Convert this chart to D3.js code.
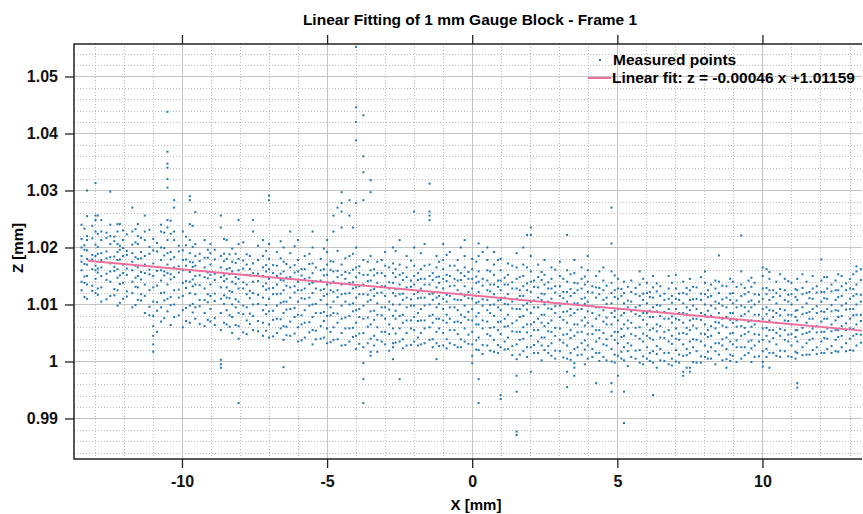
<!DOCTYPE html>
<html>
<head>
<meta charset="utf-8">
<script src="https://cdn.jsdelivr.net/npm/d3@7"></script>
<style>
    body { margin: 0; background: #fff; }
    svg { display: block; font-family: "Liberation Sans", Arial, sans-serif; }
</style>
</head>
<body>
<div class="container"></div>
<script>
var SVG_WIDTH = 863;
var SVG_HEIGHT = 514;
var PLOT = { left: 74, right: 862, top: 44, bottom: 459 };

var X_DOMAIN = [-13.72, 13.43];
var Z_DOMAIN = [0.98289, 1.0557];
var X_TICKS = [-10, -5, 0, 5, 10];
var X_TICK_LABELS = ['-10', '-5', '0', '5', '10'];
var Z_TICKS = [0.99, 1.0, 1.01, 1.02, 1.03, 1.04, 1.05];
var Z_TICK_LABELS = ['0.99', '1', '1.01', '1.02', '1.03', '1.04', '1.05'];
var X_MINOR_STEP = 1;
var Z_MINOR_STEP = 0.002;

var FIT_SLOPE = -0.00046;
var FIT_INTERCEPT = 1.01159;
var FIT_X = [-13.25, 13.43];

// measured columns: [x, [z values]]  (mm)
var colsA = [
    [-13.46, [1.0125, 1.0140, 1.0160, 1.0175, 1.0185, 1.0200, 1.0215, 1.0240]],
    [-13.27, [1.0110, 1.0135, 1.0150, 1.0170, 1.0180, 1.0195, 1.0213, 1.0220, 1.0255, 1.0300]],
    [-12.98, [1.0120, 1.0145, 1.0160, 1.0168, 1.0185, 1.0205, 1.0228, 1.0248, 1.0256, 1.0313]],
    [-12.78, [1.0105, 1.0130, 1.0150, 1.0165, 1.0178, 1.0190, 1.0213, 1.0228, 1.0248]],
    [-12.47, [1.0115, 1.0140, 1.0158, 1.0172, 1.0183, 1.0206, 1.0220, 1.0240, 1.0298]],
    [-12.22, [1.0098, 1.0125, 1.0147, 1.0162, 1.0178, 1.0192, 1.0206, 1.0228, 1.0241]],
    [-12.03, [1.0110, 1.0138, 1.0155, 1.0170, 1.0185, 1.0199, 1.0213, 1.0230]],
    [-11.71, [1.0095, 1.0120, 1.0140, 1.0160, 1.0175, 1.0190, 1.0205, 1.0228, 1.0270]],
    [-11.52, [1.0108, 1.0130, 1.0150, 1.0165, 1.0180, 1.0206, 1.0220, 1.0241]],
    [-11.28, [1.0085, 1.0115, 1.0135, 1.0155, 1.0170, 1.0185, 1.0213, 1.0228, 1.0256]],
    [-10.99, [1.0017, 1.0030, 1.0045, 1.0062, 1.0080, 1.0105, 1.0130, 1.0150, 1.0172, 1.0195, 1.0215]],
    [-10.72, [1.0070, 1.0095, 1.0120, 1.0142, 1.0160, 1.0178, 1.0200, 1.0228, 1.0240]],
    [-10.5, [1.0088, 1.0110, 1.0135, 1.0155, 1.0170, 1.0190, 1.0213, 1.0235, 1.0248, 1.0305, 1.0320, 1.0340, 1.0347, 1.0368, 1.0438]],
    [-10.27, [1.0078, 1.0100, 1.0125, 1.0148, 1.0165, 1.0183, 1.0213, 1.0228, 1.0270, 1.0283]],
    [-9.97, [1.0060, 1.0090, 1.0115, 1.0138, 1.0160, 1.0178, 1.0195, 1.0228]],
    [-9.73, [1.0068, 1.0098, 1.0120, 1.0140, 1.0157, 1.0175, 1.0190, 1.0213, 1.0241, 1.0283, 1.0290]],
    [-9.54, [1.0075, 1.0095, 1.0118, 1.0135, 1.0150, 1.0168, 1.0185, 1.0206, 1.0262]],
    [-9.22, [1.0062, 1.0085, 1.0108, 1.0128, 1.0148, 1.0165, 1.0182, 1.0213]],
    [-9.02, [1.0070, 1.0092, 1.0115, 1.0135, 1.0152, 1.0170, 1.0190, 1.0206]],
    [-8.66, [0.9989, 0.9995, 1.0003, 1.0055, 1.0085, 1.0110, 1.0130, 1.0148, 1.0165, 1.0185, 1.0235, 1.0256]],
    [-8.46, [1.0065, 1.0090, 1.0112, 1.0130, 1.0145, 1.0162, 1.0180, 1.0213]],
    [-8.27, [1.0050, 1.0078, 1.0100, 1.0122, 1.0140, 1.0158, 1.0175, 1.0198]],
    [-8.05, [0.9927, 1.0040, 1.0062, 1.0085, 1.0105, 1.0128, 1.0145, 1.0160, 1.0180, 1.0206, 1.0248]],
    [-7.77, [1.0048, 1.0072, 1.0095, 1.0118, 1.0135, 1.0152, 1.0170, 1.0188]],
    [-7.55, [1.0055, 1.0080, 1.0100, 1.0120, 1.0140, 1.0155, 1.0172, 1.0228, 1.0248]],
    [-7.21, [1.0045, 1.0068, 1.0090, 1.0112, 1.0132, 1.0150, 1.0165, 1.0185, 1.0213]]
];

var colsA2 = [
    [-13.36, [1.0113, 1.0138, 1.0149, 1.0171, 1.0196, 1.0204, 1.0233]],
    [-13.09, [1.0124, 1.0133, 1.0162, 1.0179, 1.0187, 1.0216, 1.0238]],
    [-12.9, [1.0117, 1.0128, 1.0156, 1.0163, 1.0189, 1.0201, 1.0224, 1.0256]],
    [-12.6, [1.0109, 1.0143, 1.0154, 1.0181, 1.0193, 1.0217, 1.0226]],
    [-12.33, [1.0116, 1.0127, 1.0159, 1.0166, 1.0184, 1.0211, 1.0219]],
    [-12.14, [1.0103, 1.0136, 1.0151, 1.0179, 1.0196, 1.0203, 1.0241]],
    [-11.9, [1.0114, 1.0123, 1.0152, 1.0163, 1.0187, 1.0194, 1.0223]],
    [-11.6, [1.0099, 1.0131, 1.0147, 1.0168, 1.0183, 1.0209, 1.0232]],
    [-11.41, [1.0107, 1.0118, 1.0144, 1.0157, 1.0181, 1.0192, 1.0217]],
    [-11.12, [1.0081, 1.0096, 1.0125, 1.0153, 1.0161, 1.0189, 1.0201, 1.0231]],
    [-10.86, [1.0052, 1.0089, 1.0104, 1.0133, 1.0159, 1.0166, 1.0193, 1.0208]],
    [-10.61, [1.0076, 1.0107, 1.0121, 1.0151, 1.0158, 1.0186, 1.0199, 1.0226]],
    [-10.39, [1.0064, 1.0099, 1.0113, 1.0144, 1.0153, 1.0179, 1.0192, 1.0224, 1.0247]],
    [-10.11, [1.0081, 1.0112, 1.0126, 1.0156, 1.0167, 1.0193, 1.0203]],
    [-9.86, [1.0071, 1.0094, 1.0129, 1.0141, 1.0168, 1.0179, 1.0204, 1.0219]],
    [-9.63, [1.0086, 1.0101, 1.0132, 1.0144, 1.0166, 1.0174, 1.0201, 1.0238]],
    [-9.39, [1.0066, 1.0097, 1.0108, 1.0134, 1.0151, 1.0176, 1.0189]],
    [-9.11, [1.0073, 1.0104, 1.0118, 1.0146, 1.0156, 1.0182, 1.0196]],
    [-8.87, [1.0064, 1.0076, 1.0106, 1.0119, 1.0143, 1.0154, 1.0179, 1.0196]],
    [-8.55, [1.0068, 1.0101, 1.0116, 1.0141, 1.0151, 1.0176, 1.0189, 1.0215]],
    [-8.36, [1.0061, 1.0081, 1.0111, 1.0124, 1.0153, 1.0164, 1.0188]],
    [-8.15, [1.0064, 1.0095, 1.0109, 1.0136, 1.0148, 1.0173, 1.0189]],
    [-7.89, [1.0051, 1.0083, 1.0098, 1.0128, 1.0139, 1.0163, 1.0177, 1.0209]],
    [-7.66, [1.0066, 1.0084, 1.0111, 1.0124, 1.0151, 1.0162, 1.0185]],
    [-7.38, [1.0053, 1.0071, 1.0101, 1.0117, 1.0141, 1.0154, 1.0178, 1.0203]],
    [-7.1, [1.0054, 1.0083, 1.0099, 1.0126, 1.0137, 1.0158, 1.0169, 1.0194]]
];

var colsB = [
    [-7.0, [1.0042, 1.0065, 1.0088, 1.0110, 1.0128, 1.0145, 1.0162, 1.0180, 1.0206, 1.0283, 1.0291]],
    [-6.73, [1.0050, 1.0075, 1.0098, 1.0118, 1.0135, 1.0150, 1.0168, 1.0192]],
    [-6.5, [0.9990, 1.0038, 1.0062, 1.0085, 1.0105, 1.0125, 1.0142, 1.0158, 1.0175, 1.0200]],
    [-6.27, [1.0045, 1.0070, 1.0092, 1.0112, 1.0130, 1.0148, 1.0165, 1.0190, 1.0228]],
    [-6.0, [1.0035, 1.0060, 1.0082, 1.0105, 1.0125, 1.0140, 1.0158, 1.0178, 1.0213]],
    [-5.77, [1.0042, 1.0068, 1.0090, 1.0110, 1.0128, 1.0145, 1.0162, 1.0185]],
    [-5.5, [1.0030, 1.0055, 1.0078, 1.0100, 1.0120, 1.0138, 1.0155, 1.0172, 1.0200, 1.0228]],
    [-5.22, [1.0040, 1.0062, 1.0085, 1.0108, 1.0125, 1.0142, 1.0160, 1.0180]],
    [-5.0, [1.0032, 1.0058, 1.0080, 1.0100, 1.0118, 1.0135, 1.0152, 1.0170, 1.0192, 1.0213]],
    [-4.78, [1.0038, 1.0060, 1.0085, 1.0105, 1.0122, 1.0140, 1.0158, 1.0175, 1.0228, 1.0256]],
    [-4.5, [1.0028, 1.0050, 1.0075, 1.0098, 1.0118, 1.0135, 1.0152, 1.0170, 1.0235, 1.0263, 1.0278, 1.0297]],
    [-4.23, [1.0035, 1.0058, 1.0080, 1.0100, 1.0120, 1.0138, 1.0155, 1.0185, 1.0256, 1.0283]],
    [-4.0, [1.0022, 1.0045, 1.0068, 1.0090, 1.0112, 1.0130, 1.0148, 1.0165, 1.0200, 1.0278, 1.0388, 1.0420, 1.0446, 1.0552]],
    [-3.75, [0.9927, 0.9969, 0.9997, 1.0025, 1.0050, 1.0075, 1.0098, 1.0118, 1.0135, 1.0152, 1.0178, 1.0283, 1.0332, 1.0360, 1.0432]],
    [-3.5, [1.0010, 1.0017, 1.0040, 1.0065, 1.0088, 1.0108, 1.0125, 1.0142, 1.0160, 1.0185, 1.0297, 1.0318]],
    [-3.27, [1.0017, 1.0038, 1.0060, 1.0082, 1.0102, 1.0120, 1.0138, 1.0155, 1.0175]],
    [-3.0, [1.0030, 1.0052, 1.0075, 1.0095, 1.0115, 1.0132, 1.0150, 1.0168, 1.0192]],
    [-2.73, [1.0004, 1.0025, 1.0032, 1.0058, 1.0080, 1.0100, 1.0120, 1.0138, 1.0155, 1.0172, 1.0200]],
    [-2.5, [0.9969, 1.0035, 1.0058, 1.0080, 1.0100, 1.0118, 1.0135, 1.0152, 1.0170, 1.0213]],
    [-2.26, [1.0028, 1.0050, 1.0072, 1.0095, 1.0112, 1.0130, 1.0148, 1.0165, 1.0185]],
    [-2.0, [1.0035, 1.0055, 1.0078, 1.0098, 1.0118, 1.0135, 1.0150, 1.0168, 1.0200, 1.0263]],
    [-1.77, [1.0030, 1.0050, 1.0072, 1.0092, 1.0112, 1.0128, 1.0145, 1.0162, 1.0190]],
    [-1.47, [1.0038, 1.0060, 1.0080, 1.0100, 1.0118, 1.0135, 1.0150, 1.0170, 1.0248, 1.0256, 1.0263, 1.0312]],
    [-1.23, [1.0004, 1.0032, 1.0052, 1.0075, 1.0095, 1.0112, 1.0130, 1.0148, 1.0165, 1.0185]],
    [-1.0, [1.0028, 1.0050, 1.0072, 1.0092, 1.0110, 1.0128, 1.0145, 1.0162, 1.0178, 1.0206]],
    [-0.77, [1.0032, 1.0055, 1.0075, 1.0095, 1.0115, 1.0132, 1.0150, 1.0168, 1.0192]],
    [-0.5, [1.0025, 1.0048, 1.0070, 1.0090, 1.0108, 1.0125, 1.0142, 1.0160, 1.0178]],
    [-0.26, [1.0035, 1.0058, 1.0078, 1.0098, 1.0115, 1.0132, 1.0150, 1.0165, 1.0185, 1.0213]]
];

var colsB2 = [
    [-6.86, [1.0044, 1.0073, 1.0089, 1.0118, 1.0129, 1.0155, 1.0169]],
    [-6.6, [1.0058, 1.0074, 1.0103, 1.0119, 1.0143, 1.0154, 1.0181, 1.0211]],
    [-6.4, [1.0046, 1.0061, 1.0091, 1.0105, 1.0133, 1.0147, 1.0171]],
    [-6.12, [1.0049, 1.0078, 1.0094, 1.0121, 1.0132, 1.0156, 1.0169, 1.0202]],
    [-5.88, [1.0037, 1.0065, 1.0081, 1.0111, 1.0125, 1.0151, 1.0162]],
    [-5.61, [1.0051, 1.0069, 1.0098, 1.0112, 1.0136, 1.0147, 1.0171, 1.0189]],
    [-5.39, [1.0039, 1.0054, 1.0085, 1.0101, 1.0128, 1.0141, 1.0165]],
    [-5.11, [1.0042, 1.0071, 1.0087, 1.0115, 1.0127, 1.0151, 1.0162, 1.0198]],
    [-4.88, [1.0034, 1.0052, 1.0081, 1.0095, 1.0125, 1.0137, 1.0161, 1.0176]],
    [-4.64, [1.0039, 1.0068, 1.0084, 1.0113, 1.0125, 1.0148, 1.0159, 1.0194, 1.0270]],
    [-4.37, [1.0029, 1.0058, 1.0077, 1.0105, 1.0119, 1.0145, 1.0157, 1.0181]],
    [-4.11, [1.0043, 1.0059, 1.0088, 1.0102, 1.0128, 1.0139, 1.0161, 1.0189, 1.0235]],
    [-3.89, [1.0031, 1.0049, 1.0078, 1.0092, 1.0118, 1.0132, 1.0155, 1.0167]],
    [-3.6, [1.0032, 1.0061, 1.0077, 1.0105, 1.0117, 1.0141, 1.0152, 1.0175]],
    [-3.38, [1.0028, 1.0045, 1.0073, 1.0089, 1.0115, 1.0127, 1.0151, 1.0162]],
    [-3.12, [1.0035, 1.0052, 1.0081, 1.0095, 1.0121, 1.0132, 1.0155, 1.0178]],
    [-2.86, [1.0019, 1.0048, 1.0065, 1.0091, 1.0105, 1.0128, 1.0139, 1.0165]],
    [-2.64, [1.0033, 1.0049, 1.0075, 1.0089, 1.0115, 1.0127, 1.0148, 1.0162, 1.0194]],
    [-2.39, [1.0023, 1.0039, 1.0068, 1.0082, 1.0108, 1.0119, 1.0143, 1.0155]],
    [-2.11, [1.0029, 1.0058, 1.0072, 1.0098, 1.0109, 1.0131, 1.0142, 1.0177]],
    [-1.87, [1.0028, 1.0042, 1.0071, 1.0085, 1.0111, 1.0122, 1.0143, 1.0155]],
    [-1.64, [1.0032, 1.0058, 1.0072, 1.0098, 1.0112, 1.0135, 1.0145, 1.0168, 1.0206]],
    [-1.36, [1.0025, 1.0039, 1.0068, 1.0082, 1.0108, 1.0119, 1.0143, 1.0155]],
    [-1.14, [1.0027, 1.0058, 1.0075, 1.0101, 1.0115, 1.0138, 1.0149, 1.0175]],
    [-0.88, [1.0023, 1.0039, 1.0068, 1.0082, 1.0105, 1.0117, 1.0141, 1.0152, 1.0187]],
    [-0.61, [1.0029, 1.0055, 1.0069, 1.0095, 1.0109, 1.0133, 1.0145, 1.0168]],
    [-0.39, [1.0025, 1.0039, 1.0068, 1.0082, 1.0108, 1.0119, 1.0143, 1.0155, 1.0200]],
    [-0.13, [1.0031, 1.0047, 1.0073, 1.0087, 1.0111, 1.0122, 1.0145, 1.0157]]
];

var colsC = [
    [0.0, [0.9997, 1.0010, 1.0030, 1.0052, 1.0072, 1.0092, 1.0110, 1.0128, 1.0145, 1.0162, 1.0180]],
    [0.22, [0.9927, 0.9969, 1.0020, 1.0042, 1.0065, 1.0085, 1.0105, 1.0122, 1.0140, 1.0158, 1.0185, 1.0207]],
    [0.52, [1.0028, 1.0048, 1.0070, 1.0090, 1.0108, 1.0125, 1.0142, 1.0160, 1.0178, 1.0200]],
    [0.75, [1.0017, 1.0038, 1.0060, 1.0080, 1.0100, 1.0118, 1.0135, 1.0152, 1.0170, 1.0192]],
    [0.98, [0.9934, 0.9941, 1.0025, 1.0048, 1.0070, 1.0090, 1.0108, 1.0125, 1.0142, 1.0160, 1.0180]],
    [1.23, [1.0022, 1.0042, 1.0062, 1.0082, 1.0100, 1.0118, 1.0135, 1.0152, 1.0172]],
    [1.53, [0.9871, 0.9877, 0.9947, 0.9975, 1.0004, 1.0030, 1.0052, 1.0072, 1.0092, 1.0110, 1.0128, 1.0145, 1.0165, 1.0190]],
    [1.76, [1.0018, 1.0040, 1.0060, 1.0080, 1.0098, 1.0115, 1.0132, 1.0150, 1.0170, 1.0200]],
    [2.02, [0.9982, 1.0025, 1.0045, 1.0065, 1.0085, 1.0105, 1.0122, 1.0140, 1.0158, 1.0185, 1.0222, 1.0235]],
    [2.27, [1.0015, 1.0035, 1.0055, 1.0075, 1.0095, 1.0112, 1.0130, 1.0148, 1.0170]],
    [2.49, [1.0020, 1.0042, 1.0062, 1.0082, 1.0100, 1.0118, 1.0135, 1.0152, 1.0178]],
    [2.73, [1.0010, 1.0032, 1.0052, 1.0072, 1.0092, 1.0110, 1.0128, 1.0145, 1.0165]],
    [3.02, [1.0018, 1.0038, 1.0058, 1.0078, 1.0098, 1.0115, 1.0132, 1.0150, 1.0175]],
    [3.27, [0.9955, 0.9982, 1.0005, 1.0028, 1.0048, 1.0068, 1.0088, 1.0105, 1.0122, 1.0140, 1.0160, 1.0222]],
    [3.52, [0.9975, 0.9989, 0.9997, 1.0022, 1.0045, 1.0065, 1.0085, 1.0102, 1.0120, 1.0138, 1.0155, 1.0178]],
    [3.77, [1.0012, 1.0032, 1.0052, 1.0072, 1.0092, 1.0110, 1.0128, 1.0145, 1.0165]],
    [3.98, [1.0005, 1.0028, 1.0048, 1.0068, 1.0088, 1.0105, 1.0122, 1.0140, 1.0160, 1.0185]],
    [4.27, [0.9962, 1.0015, 1.0035, 1.0055, 1.0075, 1.0095, 1.0112, 1.0130, 1.0150]],
    [4.52, [1.0008, 1.0030, 1.0050, 1.0070, 1.0090, 1.0108, 1.0125, 1.0142, 1.0165]],
    [4.8, [0.9947, 0.9962, 1.0000, 1.0022, 1.0045, 1.0065, 1.0085, 1.0102, 1.0120, 1.0138, 1.0158, 1.0207, 1.0270]],
    [5.02, [0.9975, 1.0010, 1.0032, 1.0052, 1.0072, 1.0092, 1.0110, 1.0128, 1.0145]],
    [5.23, [0.9892, 0.9947, 1.0002, 1.0025, 1.0045, 1.0065, 1.0085, 1.0102, 1.0120, 1.0140]],
    [5.48, [1.0008, 1.0028, 1.0048, 1.0068, 1.0088, 1.0105, 1.0122, 1.0142]],
    [5.77, [0.9998, 1.0020, 1.0040, 1.0060, 1.0080, 1.0098, 1.0115, 1.0135, 1.0158]],
    [6.02, [1.0005, 1.0025, 1.0045, 1.0065, 1.0085, 1.0102, 1.0120, 1.0138]],
    [6.23, [0.9941, 0.9998, 1.0018, 1.0038, 1.0058, 1.0078, 1.0095, 1.0112, 1.0130, 1.0150]],
    [6.48, [1.0002, 1.0022, 1.0042, 1.0062, 1.0080, 1.0098, 1.0115, 1.0132]],
    [6.77, [0.9995, 1.0015, 1.0035, 1.0055, 1.0075, 1.0092, 1.0110, 1.0128, 1.0150]]
];

var colsC2 = [
    [0.14, [1.0021, 1.0037, 1.0065, 1.0079, 1.0103, 1.0115, 1.0138, 1.0149, 1.0175]],
    [0.36, [1.0013, 1.0029, 1.0058, 1.0072, 1.0098, 1.0109, 1.0133, 1.0145, 1.0192]],
    [0.62, [1.0019, 1.0045, 1.0059, 1.0085, 1.0099, 1.0123, 1.0135, 1.0158]],
    [0.89, [1.0015, 1.0029, 1.0055, 1.0069, 1.0095, 1.0107, 1.0131, 1.0142, 1.0178]],
    [1.12, [1.0021, 1.0035, 1.0061, 1.0075, 1.0101, 1.0112, 1.0135, 1.0147]],
    [1.38, [1.0011, 1.0027, 1.0053, 1.0067, 1.0093, 1.0105, 1.0128, 1.0139, 1.0168]],
    [1.64, [1.0012, 1.0038, 1.0052, 1.0078, 1.0092, 1.0115, 1.0125, 1.0148]],
    [1.89, [1.0008, 1.0025, 1.0051, 1.0065, 1.0091, 1.0102, 1.0125, 1.0137, 1.0165, 1.0222]],
    [2.13, [1.0015, 1.0029, 1.0055, 1.0069, 1.0095, 1.0107, 1.0131, 1.0142]],
    [2.39, [1.0002, 1.0028, 1.0042, 1.0068, 1.0082, 1.0108, 1.0119, 1.0143, 1.0157]],
    [2.62, [1.0015, 1.0027, 1.0053, 1.0067, 1.0093, 1.0105, 1.0128, 1.0139]],
    [2.86, [1.0005, 1.0019, 1.0045, 1.0059, 1.0085, 1.0097, 1.0121, 1.0132, 1.0161]],
    [3.14, [1.0007, 1.0033, 1.0047, 1.0073, 1.0087, 1.0111, 1.0122, 1.0145]],
    [3.39, [1.0003, 1.0015, 1.0041, 1.0055, 1.0081, 1.0092, 1.0115, 1.0127, 1.0153]],
    [3.63, [1.0011, 1.0025, 1.0051, 1.0065, 1.0091, 1.0102, 1.0125, 1.0137]],
    [3.88, [0.9995, 1.0021, 1.0037, 1.0063, 1.0077, 1.0101, 1.0112, 1.0135, 1.0149]],
    [4.14, [1.0008, 1.0022, 1.0048, 1.0062, 1.0085, 1.0097, 1.0121, 1.0132]],
    [4.38, [1.0001, 1.0015, 1.0041, 1.0055, 1.0081, 1.0095, 1.0118, 1.0129, 1.0158]],
    [4.63, [1.0002, 1.0028, 1.0039, 1.0065, 1.0077, 1.0101, 1.0112, 1.0133]],
    [4.91, [0.9998, 1.0012, 1.0038, 1.0052, 1.0078, 1.0089, 1.0113, 1.0125, 1.0151]],
    [5.14, [1.0005, 1.0017, 1.0043, 1.0057, 1.0081, 1.0092, 1.0115, 1.0127]],
    [5.36, [0.9992, 1.0018, 1.0032, 1.0058, 1.0072, 1.0095, 1.0107, 1.0131]],
    [5.63, [1.0005, 1.0019, 1.0045, 1.0059, 1.0083, 1.0095, 1.0118, 1.0129]],
    [5.89, [0.9995, 1.0009, 1.0035, 1.0049, 1.0073, 1.0085, 1.0108, 1.0119, 1.0145]],
    [6.12, [1.0001, 1.0015, 1.0041, 1.0055, 1.0078, 1.0089, 1.0113, 1.0122]],
    [6.36, [0.9989, 1.0013, 1.0027, 1.0053, 1.0065, 1.0088, 1.0099, 1.0123, 1.0137]],
    [6.62, [1.0001, 1.0015, 1.0041, 1.0052, 1.0075, 1.0087, 1.0108, 1.0119]],
    [6.88, [0.9993, 1.0005, 1.0031, 1.0045, 1.0068, 1.0079, 1.0103, 1.0115, 1.0138]]
];

var colsD = [
    [7.02, [1.0000, 1.0020, 1.0040, 1.0058, 1.0075, 1.0092, 1.0110, 1.0128, 1.0152]],
    [7.27, [0.9975, 0.9982, 1.0010, 1.0030, 1.0050, 1.0068, 1.0085, 1.0102, 1.0120, 1.0140]],
    [7.5, [0.9982, 0.9989, 1.0015, 1.0035, 1.0055, 1.0072, 1.0090, 1.0108, 1.0125, 1.0145]],
    [7.73, [0.9998, 1.0018, 1.0038, 1.0058, 1.0075, 1.0092, 1.0110, 1.0130]],
    [8.02, [1.0008, 1.0028, 1.0048, 1.0065, 1.0082, 1.0100, 1.0118, 1.0138, 1.0158]],
    [8.23, [1.0005, 1.0025, 1.0045, 1.0062, 1.0080, 1.0098, 1.0115, 1.0135]],
    [8.5, [1.0012, 1.0032, 1.0050, 1.0068, 1.0085, 1.0102, 1.0120, 1.0140, 1.0186]],
    [8.76, [0.9989, 1.0004, 1.0022, 1.0042, 1.0060, 1.0078, 1.0095, 1.0112, 1.0132]],
    [8.98, [1.0010, 1.0030, 1.0050, 1.0068, 1.0085, 1.0102, 1.0120, 1.0140]],
    [9.27, [1.0005, 1.0025, 1.0045, 1.0062, 1.0080, 1.0098, 1.0115, 1.0135, 1.0158, 1.0221]],
    [9.52, [1.0015, 1.0035, 1.0052, 1.0070, 1.0088, 1.0105, 1.0122, 1.0142]],
    [9.73, [1.0008, 1.0028, 1.0048, 1.0065, 1.0082, 1.0100, 1.0118, 1.0138]],
    [10.01, [0.9991, 0.9999, 1.0018, 1.0038, 1.0058, 1.0075, 1.0092, 1.0110, 1.0128, 1.0150, 1.0165]],
    [10.24, [0.9989, 1.0015, 1.0035, 1.0055, 1.0072, 1.0090, 1.0108, 1.0125, 1.0145, 1.0157]],
    [10.48, [1.0010, 1.0030, 1.0050, 1.0068, 1.0085, 1.0102, 1.0120, 1.0140]],
    [10.77, [1.0018, 1.0038, 1.0055, 1.0072, 1.0090, 1.0108, 1.0125, 1.0145]],
    [11.0, [1.0008, 1.0028, 1.0048, 1.0065, 1.0082, 1.0100, 1.0118, 1.0138]],
    [11.2, [0.9954, 0.9962, 1.0015, 1.0035, 1.0055, 1.0072, 1.0090, 1.0108, 1.0125, 1.0145]],
    [11.52, [1.0012, 1.0032, 1.0050, 1.0068, 1.0085, 1.0102, 1.0120, 1.0140]],
    [11.73, [1.0020, 1.0040, 1.0058, 1.0075, 1.0092, 1.0110, 1.0128, 1.0150]],
    [12.03, [1.0015, 1.0035, 1.0052, 1.0070, 1.0088, 1.0105, 1.0122, 1.0142, 1.0179]],
    [12.23, [1.0022, 1.0040, 1.0058, 1.0075, 1.0092, 1.0110, 1.0128, 1.0148]],
    [12.52, [1.0018, 1.0038, 1.0055, 1.0072, 1.0090, 1.0108, 1.0125, 1.0142]],
    [12.73, [1.0025, 1.0045, 1.0062, 1.0080, 1.0098, 1.0115, 1.0132, 1.0150]],
    [13.02, [1.0020, 1.0040, 1.0058, 1.0075, 1.0092, 1.0110, 1.0128, 1.0145]],
    [13.24, [1.0028, 1.0048, 1.0065, 1.0082, 1.0100, 1.0118, 1.0135, 1.0158, 1.0167]]
];

var colsD2 = [
    [7.13, [0.9998, 1.0012, 1.0038, 1.0049, 1.0073, 1.0085, 1.0108, 1.0119]],
    [7.39, [0.9989, 1.0011, 1.0022, 1.0048, 1.0059, 1.0083, 1.0095, 1.0118, 1.0129]],
    [7.61, [0.9999, 1.0025, 1.0039, 1.0063, 1.0075, 1.0098, 1.0109, 1.0131]],
    [7.88, [0.9998, 1.0009, 1.0035, 1.0049, 1.0073, 1.0085, 1.0108, 1.0119, 1.0148]],
    [8.12, [1.0005, 1.0017, 1.0043, 1.0055, 1.0078, 1.0089, 1.0113, 1.0125]],
    [8.38, [0.9995, 1.0018, 1.0032, 1.0058, 1.0069, 1.0093, 1.0105, 1.0128, 1.0142]],
    [8.62, [1.0002, 1.0028, 1.0039, 1.0063, 1.0075, 1.0098, 1.0109, 1.0133]],
    [8.89, [1.0001, 1.0012, 1.0035, 1.0049, 1.0073, 1.0085, 1.0108, 1.0119, 1.0145]],
    [9.11, [0.9999, 1.0025, 1.0037, 1.0061, 1.0072, 1.0095, 1.0107, 1.0131]],
    [9.39, [1.0011, 1.0025, 1.0048, 1.0059, 1.0083, 1.0095, 1.0118, 1.0129]],
    [9.62, [0.9999, 1.0023, 1.0037, 1.0061, 1.0072, 1.0095, 1.0107, 1.0131, 1.0147]],
    [9.88, [1.0009, 1.0035, 1.0047, 1.0071, 1.0082, 1.0105, 1.0117]],
    [10.14, [1.0008, 1.0022, 1.0045, 1.0059, 1.0083, 1.0095, 1.0118, 1.0129, 1.0162]],
    [10.37, [1.0015, 1.0041, 1.0055, 1.0078, 1.0089, 1.0113, 1.0125]],
    [10.61, [1.0008, 1.0019, 1.0045, 1.0057, 1.0081, 1.0092, 1.0115, 1.0127, 1.0153]],
    [10.89, [1.0009, 1.0035, 1.0047, 1.0071, 1.0082, 1.0105, 1.0117, 1.0141]],
    [11.14, [1.0005, 1.0017, 1.0043, 1.0055, 1.0078, 1.0089, 1.0113, 1.0127]],
    [11.38, [1.0011, 1.0025, 1.0048, 1.0059, 1.0083, 1.0095, 1.0118, 1.0129, 1.0153]],
    [11.62, [1.0012, 1.0038, 1.0052, 1.0075, 1.0087, 1.0111, 1.0122]],
    [11.87, [1.0013, 1.0025, 1.0051, 1.0062, 1.0085, 1.0097, 1.0121, 1.0132]],
    [12.13, [1.0015, 1.0041, 1.0052, 1.0075, 1.0087, 1.0111, 1.0122, 1.0148]],
    [12.38, [1.0015, 1.0027, 1.0053, 1.0065, 1.0088, 1.0099, 1.0123, 1.0135]],
    [12.61, [1.0017, 1.0043, 1.0055, 1.0078, 1.0089, 1.0113, 1.0125, 1.0153]],
    [12.88, [1.0018, 1.0032, 1.0055, 1.0067, 1.0091, 1.0102, 1.0125, 1.0137]],
    [13.13, [1.0019, 1.0045, 1.0057, 1.0081, 1.0092, 1.0115, 1.0127, 1.0153]],
    [13.39, [1.0033, 1.0047, 1.0071, 1.0082, 1.0105, 1.0117, 1.0143, 1.0162]]
];

var POINT_COLOR = '#1f77b4';
var FIT_COLOR = '#ee6f9c';
var FONT = '"Liberation Sans", Arial, sans-serif';

document.addEventListener('DOMContentLoaded', function () {
    var svg = d3.select(".container")
        .append("svg")
        .attr("width", SVG_WIDTH)
        .attr("height", SVG_HEIGHT);

    svg.append('rect')
        .attr('width', SVG_WIDTH)
        .attr('height', SVG_HEIGHT)
        .attr('fill', '#fff');

    var x = d3.scaleLinear().domain(X_DOMAIN).range([PLOT.left, PLOT.right]);
    var y = d3.scaleLinear().domain(Z_DOMAIN).range([PLOT.bottom, PLOT.top]);

    var points = [];
    [colsA, colsA2, colsB, colsB2, colsC, colsC2, colsD, colsD2].forEach(function (cols) {
        cols.forEach(function (c) {
            c[1].forEach(function (z) {
                points.push({ x: c[0], z: z });
            });
        });
    });

    // minor grid
    var xMinor = d3.range(Math.ceil(X_DOMAIN[0]), X_DOMAIN[1], X_MINOR_STEP)
        .filter(function (v) { return X_TICKS.indexOf(v) < 0; });
    var zMinor = d3.range(0.984, Z_DOMAIN[1], Z_MINOR_STEP)
        .filter(function (v) {
            return !Z_TICKS.some(function (t) { return Math.abs(t - v) < 1e-6; });
        });

    var grid = svg.append('g').attr('class', 'grid');
    grid.selectAll('.xminor')
        .data(xMinor)
        .enter()
        .append('line')
        .attr('x1', function (d) { return Math.round(x(d)) + 0.5; })
        .attr('x2', function (d) { return Math.round(x(d)) + 0.5; })
        .attr('y1', PLOT.top)
        .attr('y2', PLOT.bottom)
        .attr('stroke', '#bdbdbd')
        .attr('stroke-dasharray', '1,2');
    grid.selectAll('.zminor')
        .data(zMinor)
        .enter()
        .append('line')
        .attr('x1', PLOT.left)
        .attr('x2', PLOT.right)
        .attr('y1', function (d) { return Math.round(y(d)) + 0.5; })
        .attr('y2', function (d) { return Math.round(y(d)) + 0.5; })
        .attr('stroke', '#bdbdbd')
        .attr('stroke-dasharray', '1,2');
    grid.selectAll('.xmajor')
        .data(X_TICKS)
        .enter()
        .append('line')
        .attr('x1', function (d) { return Math.round(x(d)) + 0.5; })
        .attr('x2', function (d) { return Math.round(x(d)) + 0.5; })
        .attr('y1', PLOT.top)
        .attr('y2', PLOT.bottom)
        .attr('stroke', '#c4c4c4');
    grid.selectAll('.zmajor')
        .data(Z_TICKS)
        .enter()
        .append('line')
        .attr('x1', PLOT.left)
        .attr('x2', PLOT.right)
        .attr('y1', function (d) { return Math.round(y(d)) + 0.5; })
        .attr('y2', function (d) { return Math.round(y(d)) + 0.5; })
        .attr('stroke', '#c4c4c4');

    // measured points
    svg.append('g')
        .selectAll('rect')
        .data(points)
        .enter()
        .append('rect')
        .attr('x', function (d) { return x(d.x) - 1; })
        .attr('y', function (d) { return y(d.z) - 1; })
        .attr('width', 2)
        .attr('height', 2)
        .attr('fill', POINT_COLOR);

    // fit line
    svg.append('line')
        .attr('x1', x(FIT_X[0]))
        .attr('y1', y(FIT_SLOPE * FIT_X[0] + FIT_INTERCEPT))
        .attr('x2', x(FIT_X[1]))
        .attr('y2', y(FIT_SLOPE * FIT_X[1] + FIT_INTERCEPT))
        .attr('stroke', FIT_COLOR)
        .attr('stroke-width', 2);

    // frame
    svg.append('path')
        .attr('d', 'M' + PLOT.right + ',' + PLOT.top + 'H' + PLOT.left + 'V' + PLOT.bottom + 'H' + PLOT.right)
        .attr('stroke', '#222')
        .attr('stroke-width', 1.5)
        .attr('fill', 'none');

    // axes
    var bottomAxis = d3.axisBottom(x)
        .tickValues(X_TICKS)
        .tickSize(9)
        .tickPadding(8)
        .tickFormat(function (d, i) { return X_TICK_LABELS[i]; });
    var topAxis = d3.axisTop(x)
        .tickValues(X_TICKS)
        .tickSize(9)
        .tickFormat('');
    var leftAxis = d3.axisLeft(y)
        .tickValues(Z_TICKS)
        .tickSize(9)
        .tickPadding(7)
        .tickFormat(function (d, i) { return Z_TICK_LABELS[i]; });

    [
        svg.append('g').attr('transform', 'translate(0,' + PLOT.bottom + ')').call(bottomAxis),
        svg.append('g').attr('transform', 'translate(0,' + PLOT.top + ')').call(topAxis),
        svg.append('g').attr('transform', 'translate(' + PLOT.left + ',0)').call(leftAxis)
    ].forEach(function (g) {
        g.select('.domain').remove();
        g.selectAll('.tick line').attr('stroke', '#222').attr('stroke-width', 1.3);
        g.selectAll('.tick text')
            .attr('fill', '#111')
            .style('font-size', '16px')
            .style('font-weight', 'bold')
            .style('font-family', FONT);
    });

    // titles
    svg.append('text')
        .attr('x', 470)
        .attr('y', 25)
        .attr('text-anchor', 'middle')
        .style('font-size', '15.5px')
        .style('font-weight', 'bold')
        .text('Linear Fitting of 1 mm Gauge Block - Frame 1');

    svg.append('text')
        .attr('x', 476)
        .attr('y', 510)
        .attr('text-anchor', 'middle')
        .style('font-size', '15px')
        .style('font-weight', 'bold')
        .text('X [mm]');

    svg.append('text')
        .attr('transform', 'translate(23,248) rotate(-90)')
        .attr('text-anchor', 'middle')
        .style('font-size', '15px')
        .style('font-weight', 'bold')
        .text('Z [mm]');

    // legend
    var legend = svg.append('g').attr('transform', 'translate(588,0)');
    legend.append('rect')
        .attr('x', 11)
        .attr('y', 59)
        .attr('width', 2)
        .attr('height', 2)
        .attr('fill', POINT_COLOR);
    legend.append('text')
        .attr('x', 25)
        .attr('y', 65)
        .style('font-size', '15.5px')
        .style('font-weight', 'bold')
        .text('Measured points');
    legend.append('line')
        .attr('x1', 0)
        .attr('x2', 23)
        .attr('y1', 78)
        .attr('y2', 78)
        .attr('stroke', FIT_COLOR)
        .attr('stroke-width', 2);
    legend.append('text')
        .attr('x', 24)
        .attr('y', 83)
        .style('font-size', '15.5px')
        .style('font-weight', 'bold')
        .text('Linear fit: z = ' + FIT_SLOPE + ' x +' + FIT_INTERCEPT);
});
</script>
</body>
</html>
